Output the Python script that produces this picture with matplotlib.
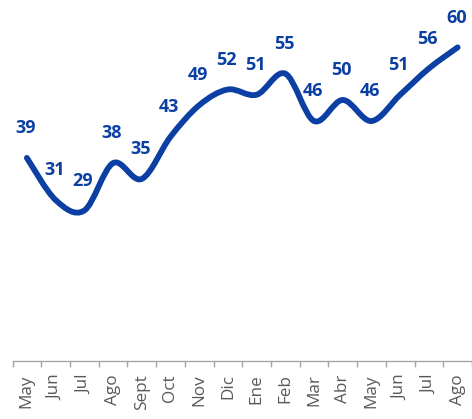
import numpy as np
from matplotlib import pyplot as plt
from matplotlib.path import Path
from matplotlib.patches import PathPatch

# Data
months = ['May', 'Jun', 'Jul', 'Ago', 'Sept', 'Oct', 'Nov', 'Dic',
          'Ene', 'Feb', 'Mar', 'Abr', 'May', 'Jun', 'Jul', 'Ago']
values = [39, 31, 29, 38, 35, 43, 49, 52, 51, 55, 46, 50, 46, 51, 56, 60]

blue = '#0b3fa3'
gray = '#595959'

fig = plt.figure(figsize=(4.72, 4.19), dpi=100)
ax = fig.add_axes([12.5 / 472, 58 / 419, 459.5 / 472, 361 / 419])

# Excel-style smoothed line built from bezier segments through the points
x = np.arange(len(values), dtype=float)
y = np.array(values, dtype=float)
verts = [(x[0], y[0])]
codes = [Path.MOVETO]
for i in range(len(x) - 1):
    p0 = (x[max(i - 1, 0)], y[max(i - 1, 0)])
    p1 = (x[i], y[i])
    p2 = (x[i + 1], y[i + 1])
    p3 = (x[min(i + 2, len(x) - 1)], y[min(i + 2, len(x) - 1)])
    c1 = (p1[0] + (p2[0] - p0[0]) / 6, p1[1] + (p2[1] - p0[1]) / 6)
    c2 = (p2[0] - (p3[0] - p1[0]) / 6, p2[1] - (p3[1] - p1[1]) / 6)
    verts += [c1, c2, p2]
    codes += [Path.CURVE4] * 3
ax.add_patch(PathPatch(Path(verts, codes), facecolor='none', edgecolor=blue,
                       lw=4.2, capstyle='round', joinstyle='round'))

# value labels
for xi, v in zip(x, values):
    ax.annotate(str(v), (xi, v), xytext=(-1, 21.5), textcoords='offset points',
                ha='center', va='center', fontsize=13, fontweight='bold',
                color=blue, family='Open Sans')

ax.set_xlim(-0.5, len(values) - 0.5)
ax.set_ylim(0.4, 69.0)

ax.set_xticks(x)
ax.set_xticklabels(months, rotation=90, fontsize=12.3, color=gray, family='Open Sans')
ax.set_xticks(np.arange(-0.5, len(values)), minor=True)
ax.tick_params(axis='x', which='major', length=0, pad=9.5)
ax.tick_params(axis='x', which='minor', length=4.5, width=1, color='#a6a6a6')
ax.set_yticks([])

for s in ['top', 'right', 'left']:
    ax.spines[s].set_visible(False)
ax.spines['bottom'].set_color('#a6a6a6')
ax.spines['bottom'].set_linewidth(1)

fig.savefig('out.png', dpi=100)
